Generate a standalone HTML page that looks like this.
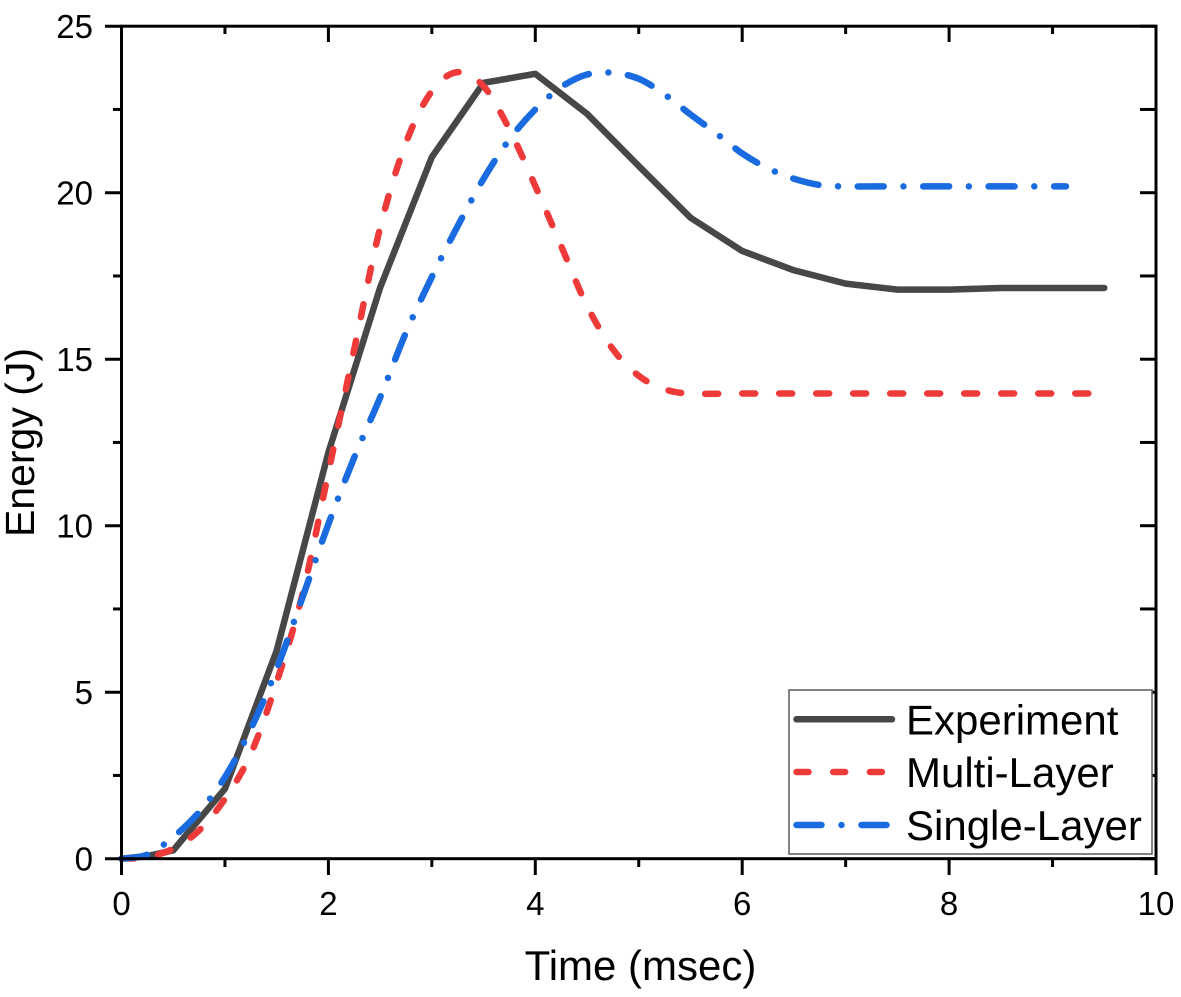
<!DOCTYPE html>
<html><head><meta charset="utf-8">
<style>
html,body{margin:0;padding:0;background:#fff;}
svg{display:block;}
text{font-family:"Liberation Sans",Arial,sans-serif;fill:#000;}
</style></head>
<body>
<svg id="s" width="1181" height="997" viewBox="0 0 1181 997" xmlns="http://www.w3.org/2000/svg">
<rect width="1181" height="997" fill="#fff"/>
<g id="curves"></g>
<g id="ticks" stroke="#000" stroke-width="3"></g>
<g id="labels" font-size="33"></g>
<text x="640.5" y="980" font-size="42" text-anchor="middle">Time (msec)</text>
<text transform="translate(34,442.5) rotate(-90)" font-size="41" text-anchor="middle">Energy (J)</text>
<!-- legend -->
<rect x="789" y="690" width="363" height="164" fill="#fff" stroke="#5a5a5a" stroke-width="1.5"/>
<line x1="796.5" y1="719.3" x2="892" y2="719.3" stroke="#474747" stroke-width="6.5" stroke-linecap="round"/>
<line x1="796.5" y1="772" x2="892" y2="772" stroke="#ef3a3a" stroke-width="6.5" stroke-linecap="round" stroke-dasharray="12 24.7"/>
<line x1="796.5" y1="825" x2="892" y2="825" stroke="#1a6be0" stroke-width="6.5" stroke-linecap="round" stroke-dasharray="25 20 0.01 20"/>
<text x="906" y="734.5" font-size="42">Experiment</text>
<text x="906" y="787" font-size="42">Multi-Layer</text>
<text x="906" y="840" font-size="42">Single-Layer</text>
<rect x="121.5" y="26.2" width="1034.5" height="832.5" fill="none" stroke="#000" stroke-width="3"/>
</svg>
<script>
(function(){
var NS="http://www.w3.org/2000/svg";
function X(t){return 121.5+103.45*t;}
function Y(e){return 858.7-33.3*e;}
function el(name,attrs,parent){var e=document.createElementNS(NS,name);for(var k in attrs)e.setAttribute(k,attrs[k]);parent.appendChild(e);return e;}
var curves=document.getElementById('curves');
var exp=[[0,0],[0.25,0.08],[0.5,0.25],[1,2.1],[1.5,6.25],[2,12.2],[2.5,17.15],[3,21.07],[3.5,23.3],[4,23.57],[4.5,22.37],[5,20.8],[5.5,19.25],[6,18.25],[6.5,17.67],[7,17.27],[7.5,17.09],[8,17.09],[8.5,17.14],[9,17.14],[9.5,17.14]];
var red=[[0,0],[0.25,0.05],[0.5,0.3],[0.75,0.85],[1,1.8],[1.25,3.15],[1.5,5.3],[1.75,7.95],[2,11.6],[2.25,15.3],[2.5,18.95],[2.75,21.5],[3,23.05],[3.25,23.62],[3.5,23.2],[3.75,21.9],[4,20.2],[4.25,18.4],[4.5,16.6],[4.75,15.3],[5,14.5],[5.25,14.1],[5.5,13.97],[6,13.97],[6.5,13.97],[7,13.97],[7.5,13.97],[8,13.97],[8.5,13.97],[9,13.97],[9.45,13.97]];
var blue=[[0,0],[0.25,0.12],[0.5,0.65],[0.75,1.4],[1,2.45],[1.25,3.9],[1.5,5.7],[1.75,7.85],[2,10.05],[2.25,12.05],[2.5,13.85],[2.75,15.8],[3,17.47],[3.25,19.0],[3.5,20.42],[3.75,21.6],[4,22.5],[4.25,23.17],[4.5,23.55],[4.75,23.6],[5,23.42],[5.25,22.95],[5.5,22.35],[5.75,21.78],[6,21.18],[6.25,20.73],[6.5,20.42],[6.75,20.23],[7,20.19],[7.5,20.19],[8,20.19],[8.5,20.19],[9,20.19],[9.13,20.19]];
function poly(d){var s='';for(var i=0;i<d.length;i++){s+=(i?'L':'M')+X(d[i][0]).toFixed(2)+','+Y(d[i][1]).toFixed(2);}return s;}
function smooth(d){var p=d.map(function(a){return [X(a[0]),Y(a[1])];});var s='M'+p[0][0].toFixed(2)+','+p[0][1].toFixed(2);
for(var i=0;i<p.length-1;i++){var p0=p[i>0?i-1:i],p1=p[i],p2=p[i+1],p3=p[i+2<p.length?i+2:i+1];
var c1x=p1[0]+(p2[0]-p0[0])/6,c1y=p1[1]+(p2[1]-p0[1])/6,c2x=p2[0]-(p3[0]-p1[0])/6,c2y=p2[1]-(p3[1]-p1[1])/6;
s+='C'+c1x.toFixed(2)+','+c1y.toFixed(2)+' '+c2x.toFixed(2)+','+c2y.toFixed(2)+' '+p2[0].toFixed(2)+','+p2[1].toFixed(2);}return s;}
el('path',{d:poly(exp),fill:'none',stroke:'#474747','stroke-width':6.5,'stroke-linejoin':'round','stroke-linecap':'round'},curves);
el('path',{d:smooth(red),fill:'none',stroke:'#ef3a3a','stroke-width':6.5,'stroke-linecap':'round','stroke-dasharray':'13 24'},curves);
el('path',{d:smooth(blue),fill:'none',stroke:'#1a6be0','stroke-width':6.5,'stroke-linecap':'round','stroke-dasharray':'26 19.7 0.01 19.7'},curves);
var tk=document.getElementById('ticks'),lb=document.getElementById('labels');
var i;
for(i=0;i<=10;i++){var e=i*2.5,y=Y(e),maj=(i%2==0);
 el('line',{x1:maj?105:113,y1:y,x2:121.5,y2:y},tk);
 el('line',{x1:1140,y1:y,x2:1156,y2:y},tk);
 if(maj){var t=el('text',{x:93,y:(y+12).toFixed(1),'text-anchor':'end'},lb);t.textContent=String(e);}
}
for(i=0;i<=10;i++){var x=X(i),maj2=(i%2==0);
 el('line',{x1:x,y1:858.7,x2:x,y2:maj2?875:867},tk);
 el('line',{x1:x,y1:26.2,x2:x,y2:maj2?42:34},tk);
 if(maj2){var t2=el('text',{x:x.toFixed(1),y:915,'text-anchor':'middle'},lb);t2.textContent=String(i);}
}
})();
</script>
</body></html>
